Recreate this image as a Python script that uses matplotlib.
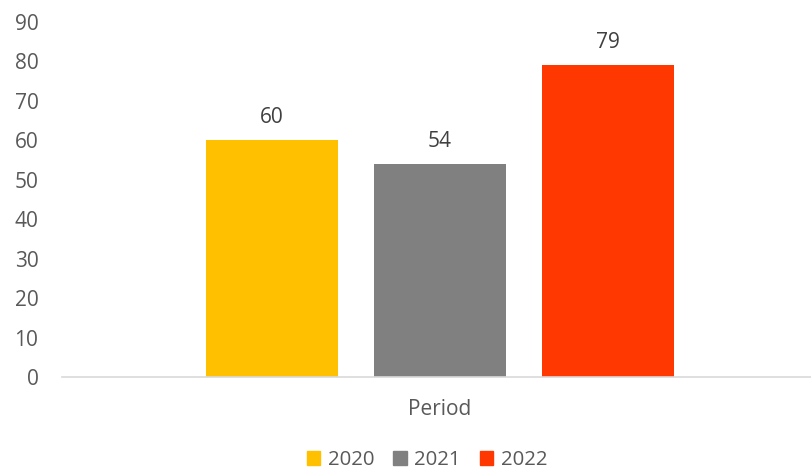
import numpy as np
import matplotlib.pyplot as plt
from matplotlib.patches import Patch

plt.rcParams['font.family'] = ['Open Sans', 'DejaVu Sans']

series = ['2020', '2021', '2022']
values = [60, 54, 79]
colors = ['#FFC000', '#808080', '#FF3700']
category = 'Period'

fig = plt.figure(figsize=(8.12, 4.70), dpi=100)
ax = fig.add_axes([62 / 812, 1 - 377 / 470, 750 / 812, 355 / 470])

offsets = np.array([-1, 0, 1])
bars = ax.bar(offsets, values, width=0.79, color=colors)
for b, v in zip(bars, values):
    ax.text(b.get_x() + b.get_width() / 2, v + 3.1, str(v), ha='center', va='bottom',
            fontsize=15, color='#404040')

ax.set_xlim(-2.25, 2.214)
ax.set_ylim(0, 90)
ax.set_yticks(np.arange(0, 91, 10))
ax.set_xticks([0])
ax.set_xticklabels([category])
ax.tick_params(axis='y', length=0, pad=17, labelsize=15, labelcolor='#595959')
ax.tick_params(axis='x', length=0, pad=16, labelsize=15, labelcolor='#595959')
for s in ['top', 'right', 'left']:
    ax.spines[s].set_visible(False)
ax.spines['bottom'].set_color('#d9d9d9')
ax.spines['bottom'].set_linewidth(1.2)

handles = [Patch(color=c, label=s) for c, s in zip(colors, series)]
fig.legend(handles=handles, loc='center', bbox_to_anchor=(427 / 812, 1 - 460 / 470), ncol=3,
           frameon=False, fontsize=14.7, labelcolor='#595959', handlelength=0.66,
           handleheight=0.66, handletextpad=0.35, columnspacing=0.95)

plt.savefig('out.png', dpi=100)
